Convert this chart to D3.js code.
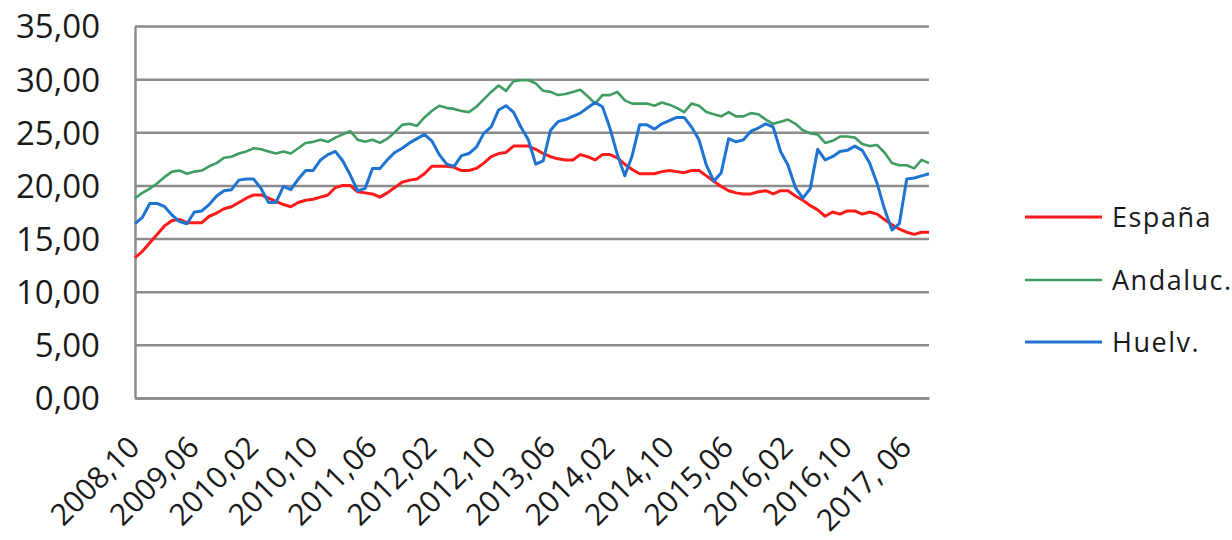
<!DOCTYPE html>
<html>
<head>
<meta charset="utf-8">
<script src="https://cdn.jsdelivr.net/npm/d3@7/dist/d3.min.js"></script>
<style>
  html, body { margin: 0; padding: 0; background: #ffffff; }
  svg { display: block; }
</style>
</head>
<body>
<svg id="chart" width="1232" height="540"></svg>
<script>
// ---- DATA ----
const categories = [
  "2008,10","2008,11","2008,12",
  "2009,01","2009,02","2009,03","2009,04","2009,05","2009,06","2009,07","2009,08","2009,09","2009,10","2009,11","2009,12",
  "2010,01","2010,02","2010,03","2010,04","2010,05","2010,06","2010,07","2010,08","2010,09","2010,10","2010,11","2010,12",
  "2011,01","2011,02","2011,03","2011,04","2011,05","2011,06","2011,07","2011,08","2011,09","2011,10","2011,11","2011,12",
  "2012,01","2012,02","2012,03","2012,04","2012,05","2012,06","2012,07","2012,08","2012,09","2012,10","2012,11","2012,12",
  "2013,01","2013,02","2013,03","2013,04","2013,05","2013,06","2013,07","2013,08","2013,09","2013,10","2013,11","2013,12",
  "2014,01","2014,02","2014,03","2014,04","2014,05","2014,06","2014,07","2014,08","2014,09","2014,10","2014,11","2014,12",
  "2015,01","2015,02","2015,03","2015,04","2015,05","2015,06","2015,07","2015,08","2015,09","2015,10","2015,11","2015,12",
  "2016,01","2016,02","2016,03","2016,04","2016,05","2016,06","2016,07","2016,08","2016,09","2016,10","2016,11","2016,12",
  "2017,01","2017,02","2017,03","2017,04","2017,05","2017,06","2017,07","2017,08","2017,09"
];

const tickLabels = ["2008,10","2009,06","2010,02","2010,10","2011,06","2012,02","2012,10",
  "2013,06","2014,02","2014,10","2015,06","2016,02","2016,10","2017, 06"];

const yTicks = [0, 5, 10, 15, 20, 25, 30, 35];

const espana = [
  13.2,13.8,14.6,15.4,16.2,16.7,16.8,16.5,16.5,16.5,17.1,17.4,17.8,18.0,18.4,18.8,
  19.1,19.1,18.8,18.5,18.2,18.0,18.4,18.6,18.7,18.9,19.1,19.8,20.0,20.0,19.4,19.3,
  19.2,18.9,19.3,19.8,20.3,20.5,20.6,21.1,21.8,21.8,21.8,21.7,21.4,21.4,21.6,22.1,
  22.7,23.0,23.1,23.7,23.7,23.7,23.4,23.0,22.7,22.5,22.4,22.4,22.9,22.7,22.4,22.9,
  22.9,22.6,22.0,21.5,21.1,21.1,21.1,21.3,21.4,21.3,21.2,21.4,21.4,20.9,20.4,19.9,
  19.5,19.3,19.2,19.2,19.4,19.5,19.2,19.5,19.5,19.0,18.6,18.1,17.7,17.1,17.5,17.3,
  17.6,17.6,17.3,17.5,17.3,16.8,16.3,15.9,15.6,15.4,15.6,15.6
];

const andalucia = [
  18.8,19.3,19.7,20.2,20.8,21.3,21.4,21.1,21.3,21.4,21.8,22.1,22.6,22.7,23.0,23.2,
  23.5,23.4,23.2,23.0,23.2,23.0,23.5,24.0,24.1,24.3,24.1,24.5,24.8,25.1,24.3,24.1,
  24.3,24.0,24.4,25.0,25.7,25.8,25.6,26.4,27.0,27.5,27.3,27.2,27.0,26.9,27.4,28.1,
  28.8,29.4,28.9,29.8,29.9,29.9,29.6,28.9,28.8,28.5,28.6,28.8,29.0,28.4,27.7,28.5,
  28.5,28.8,28.0,27.7,27.7,27.7,27.5,27.8,27.6,27.3,26.9,27.7,27.5,26.9,26.7,26.5,
  26.9,26.5,26.5,26.8,26.7,26.2,25.8,26.0,26.2,25.8,25.2,24.9,24.8,24.0,24.2,24.6,
  24.6,24.5,23.9,23.7,23.8,23.1,22.1,21.9,21.9,21.6,22.4,22.1
];

const huelva = [
  16.4,17.0,18.3,18.3,18.0,17.2,16.6,16.4,17.5,17.6,18.2,19.0,19.5,19.6,20.5,20.6,
  20.6,19.7,18.4,18.4,19.9,19.6,20.6,21.4,21.4,22.4,22.9,23.2,22.3,21.0,19.5,19.7,
  21.6,21.6,22.4,23.1,23.5,24.0,24.4,24.8,24.2,22.9,22.0,21.8,22.8,23.0,23.6,24.9,
  25.5,27.1,27.5,26.9,25.5,24.3,22.0,22.3,25.2,26.0,26.2,26.5,26.8,27.3,27.8,27.4,
  25.4,22.9,20.9,22.8,25.7,25.7,25.3,25.8,26.1,26.4,26.4,25.5,24.3,21.9,20.4,21.2,
  24.4,24.1,24.3,25.1,25.4,25.8,25.5,23.2,21.9,19.8,18.8,19.7,23.4,22.4,22.7,23.2,
  23.3,23.7,23.3,22.1,20.2,17.8,15.8,16.4,20.6,20.7,20.9,21.1
];

const seriesNames = ["España", "Andaluc.", "Huelv."];
const seriesColors = ["#ff1a1a", "#3f9c62", "#1f74d2"];
const seriesWidths = [3, 2.6, 3];

// ---- CHART ----
const svg = d3.select("#chart");
const plot = { left: 135, right: 929, top: 26, bottom: 398 };

const x = d3.scalePoint().domain(categories).range([plot.left, plot.right]).padding(0);
const y = d3.scaleLinear().domain([0, 35]).range([plot.bottom, plot.top]);

const fmt = d3.format(".2f");
const fontFam = "'Open Sans', 'Noto Sans', sans-serif";

// Y axis with gridlines
const yAxis = d3.axisLeft(y)
  .tickValues(yTicks)
  .tickSize(-(plot.right - plot.left))
  .tickSizeOuter(0)
  .tickPadding(35)
  .tickFormat(d => fmt(d).replace(".", ","));

const gy = svg.append("g")
  .attr("transform", `translate(${plot.left},0)`)
  .call(yAxis);
gy.select(".domain").attr("stroke", "#8c8c8c").attr("stroke-width", 2.5);
gy.selectAll(".tick line").attr("stroke", "#8c8c8c").attr("stroke-width", 2.5);
gy.selectAll(".tick text")
  .attr("fill", "#1a1a1a")
  .style("font-family", fontFam)
  .style("font-size", "33px")
  .attr("dy", "0.36em");

// X axis
const tickCats = tickLabels.map(l => l.replace(" ", ""));
const labelOf = {};
tickLabels.forEach(l => { labelOf[l.replace(" ", "")] = l; });

const xAxis = d3.axisBottom(x)
  .tickValues(tickCats)
  .tickSize(0)
  .tickSizeOuter(0)
  .tickFormat(d => labelOf[d]);

const gx = svg.append("g")
  .attr("transform", `translate(0,${plot.bottom})`)
  .call(xAxis);
gx.select(".domain").attr("stroke", "#8c8c8c").attr("stroke-width", 2.5);
gx.selectAll(".tick text")
  .attr("fill", "#1a1a1a")
  .style("font-family", fontFam)
  .style("font-size", "30px")
  .attr("text-anchor", "end")
  .attr("x", 0).attr("y", 0).attr("dy", 0)
  .attr("transform", "translate(6,51) rotate(-45)");

// Lines
const allSeries = [espana, andalucia, huelva];
const line = d3.line()
  .x((d, i) => x(categories[i]))
  .y(d => y(d));

// draw order: green, red, blue (blue on top)
[1, 0, 2].forEach(k => {
  svg.append("path")
    .datum(allSeries[k])
    .attr("fill", "none")
    .attr("stroke", seriesColors[k])
    .attr("stroke-width", seriesWidths[k])
    .attr("stroke-linejoin", "round")
    .attr("d", line);
});

// Legend
const legendY = [217, 280, 342];
const legend = svg.append("g");
seriesNames.forEach((name, k) => {
  legend.append("line")
    .attr("x1", 1025).attr("x2", 1102)
    .attr("y1", legendY[k]).attr("y2", legendY[k])
    .attr("stroke", seriesColors[k])
    .attr("stroke-width", seriesWidths[k]);
  legend.append("text")
    .attr("x", 1112).attr("y", legendY[k] + 10)
    .attr("fill", "#1a1a1a")
    .style("font-family", fontFam)
    .style("font-size", "27px")
    .style("letter-spacing", "1.5px")
    .text(name);
});
</script>
</body>
</html>
